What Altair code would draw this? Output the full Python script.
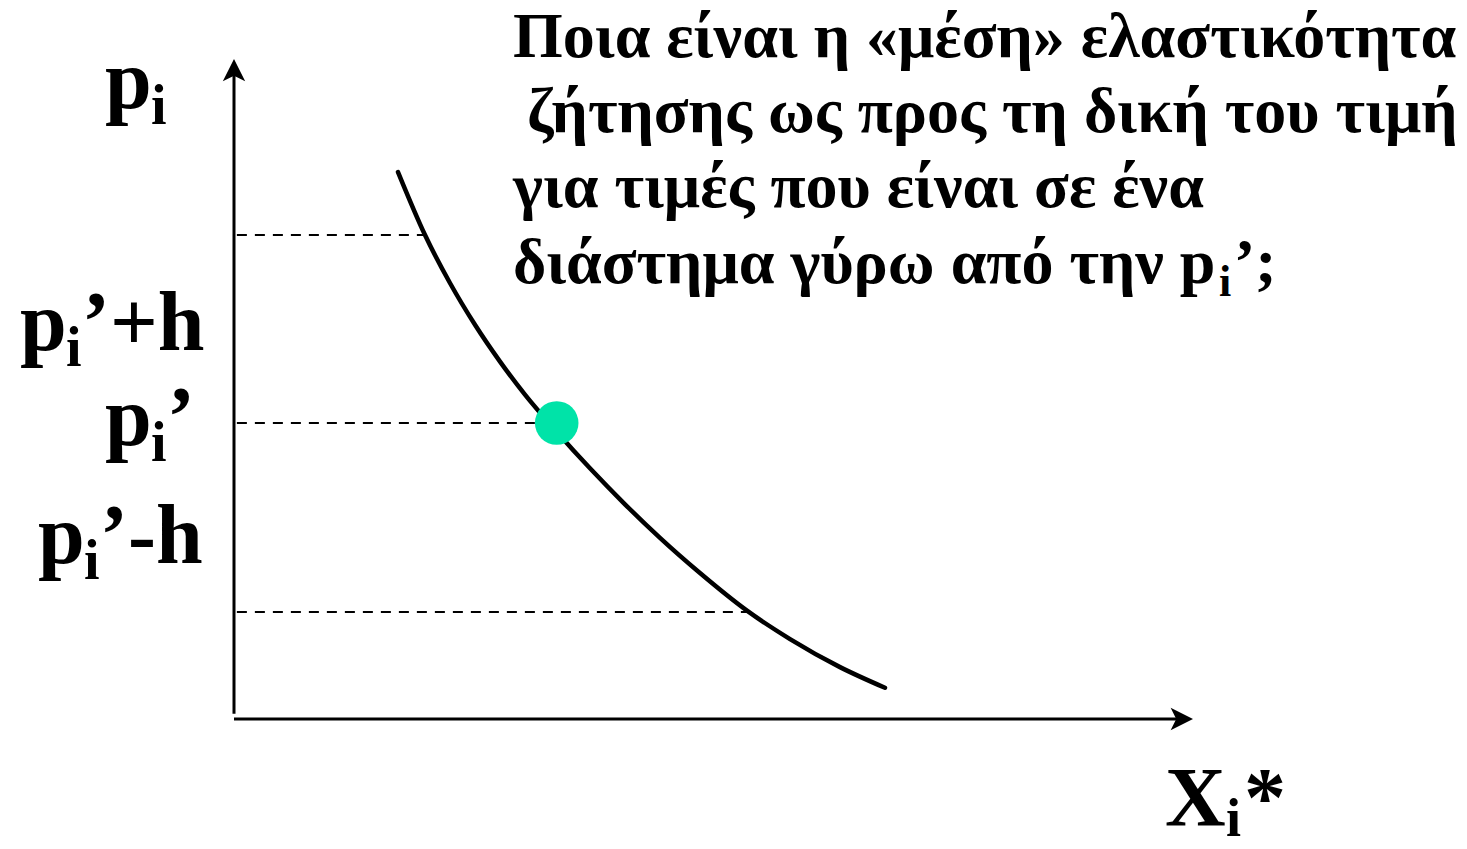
import altair as alt
import pandas as pd

# Demand curve X_i*(p_i), read in axis units (0-100 on both axes)
curve_q = [17.10, 19.92, 22.52, 25.13, 27.74, 30.34, 33.65, 37.12, 40.77,
           44.42, 48.59, 53.49, 57.98, 63.19, 67.88]
curve_p = [82.88, 73.33, 66.06, 59.73, 54.15, 49.15, 43.53, 37.98, 32.53,
           27.44, 22.11, 16.41, 12.11, 7.86, 4.73]

# Price levels p'+h, p', p'-h and where their guide lines meet the curve
level_names = ["p'+h", "p'", "p'-h"]
level_p = [73.33, 44.85, 16.21]
level_q_end = [19.92, 33.65, 53.49]

# The highlighted point (p_i', X_i*(p_i'))
point_q = [33.65]
point_p = [44.85]

title_lines = [
    "Ποια είναι η «μέση» ελαστικότητα",
    "ζήτησης ως προς τη δική του τιμή",
    "για τιμές που είναι σε ένα",
    "διάστημα γύρω από την p",
]
title_x = [513, 527, 513, 513]
title_baselines = [57, 132, 207, 283]

# Plot frame (pixels)
LEFT, TOP = 234, 59
W, H = 959, 660
FONT = "Liberation Serif"

xs = alt.Scale(domain=[0, 100], nice=False, zero=False)
ys = alt.Scale(domain=[0, 100], nice=False, zero=False)

curve_df = pd.DataFrame({"q": curve_q, "p": curve_p})
levels_df = pd.DataFrame({"name": level_names, "p": level_p,
                          "q0": [0.3] * 3, "q1": level_q_end})
point_df = pd.DataFrame({"q": point_q, "p": point_p})
one = pd.DataFrame({"k": [0]})

X = lambda f: alt.X(f, type="quantitative", scale=xs, axis=None)
Y = lambda f: alt.Y(f, type="quantitative", scale=ys, axis=None)

curve = alt.Chart(curve_df).mark_line(
    color="black", strokeWidth=4.5, strokeCap="round", interpolate="monotone"
).encode(x=X("q"), y=Y("p"))

guides = alt.Chart(levels_df).mark_rule(
    color="black", strokeWidth=2, strokeDash=[10, 8]
).encode(x=X("q0"), x2="q1", y=Y("p"))

axes_df = pd.DataFrame({"q0": [0, 0], "q1": [0, 98.5], "p0": [0.8, 0], "p1": [97.8, 0]})
axes = alt.Chart(axes_df).mark_rule(color="black", strokeWidth=3).encode(
    x=X("q0"), x2="q1", y=Y("p0"), y2="p1"
)

arrow_up = alt.Chart(pd.DataFrame({"q": [0], "p": [100]})).mark_point(
    shape="M0,0L1,2L0,1.5L-1,2Z", filled=True, size=500, color="black", opacity=1
).encode(x=X("q"), y=Y("p"))
arrow_right = alt.Chart(pd.DataFrame({"q": [100], "p": [0]})).mark_point(
    shape="M0,0L-2,-1L-1.5,0L-2,1Z", filled=True, size=500, color="black", opacity=1
).encode(x=X("q"), y=Y("p"))

dot = alt.Chart(point_df).mark_circle(
    size=1900, color="#00E3A8", opacity=1
).encode(x=X("q"), y=Y("p"))


def txt(text, px, py, size, align="left"):
    """Bold serif text with its baseline at page pixel (px, py)."""
    return alt.Chart(one).mark_text(
        text=text, font=FONT, fontWeight="bold", fontSize=size,
        align=align, baseline="alphabetic", color="black"
    ).encode(x=alt.value(px - LEFT), y=alt.value(py - TOP))


def p_label(rest, px, py):
    """p with subscript i, followed by the rest of the label."""
    return [
        txt("p", px, py, 84),
        txt("i", px + 46, py + 16, 56),
        txt(rest, px + 62, py, 84),
    ]


labels = []
labels += p_label("", 105, 108)
labels += p_label("’+h", 20, 350)
labels += p_label("’", 105, 445)
labels += p_label("’-h", 38, 563)

# x-axis label X_i*
labels += [txt("X", 1165, 826, 84), txt("i", 1226, 836, 54), txt("*", 1244, 826, 84)]

# question text
for line, x0, b in zip(title_lines, title_x, title_baselines):
    labels.append(txt(line, x0, b, 64))
labels += [txt("i", 1219, 296, 44), txt("’;", 1234, 283, 64)]

chart = alt.layer(
    guides, curve, axes, arrow_up, arrow_right, dot, *labels
).properties(
    width=W, height=H,
    padding={"left": LEFT, "top": TOP, "right": 1467 - LEFT - W, "bottom": 849 - TOP - H},
    autosize=alt.AutoSizeParams(type="none"),
    background="white",
).configure_view(stroke=None)

chart.save("out.html", embed_options={"renderer": "svg", "actions": False})
